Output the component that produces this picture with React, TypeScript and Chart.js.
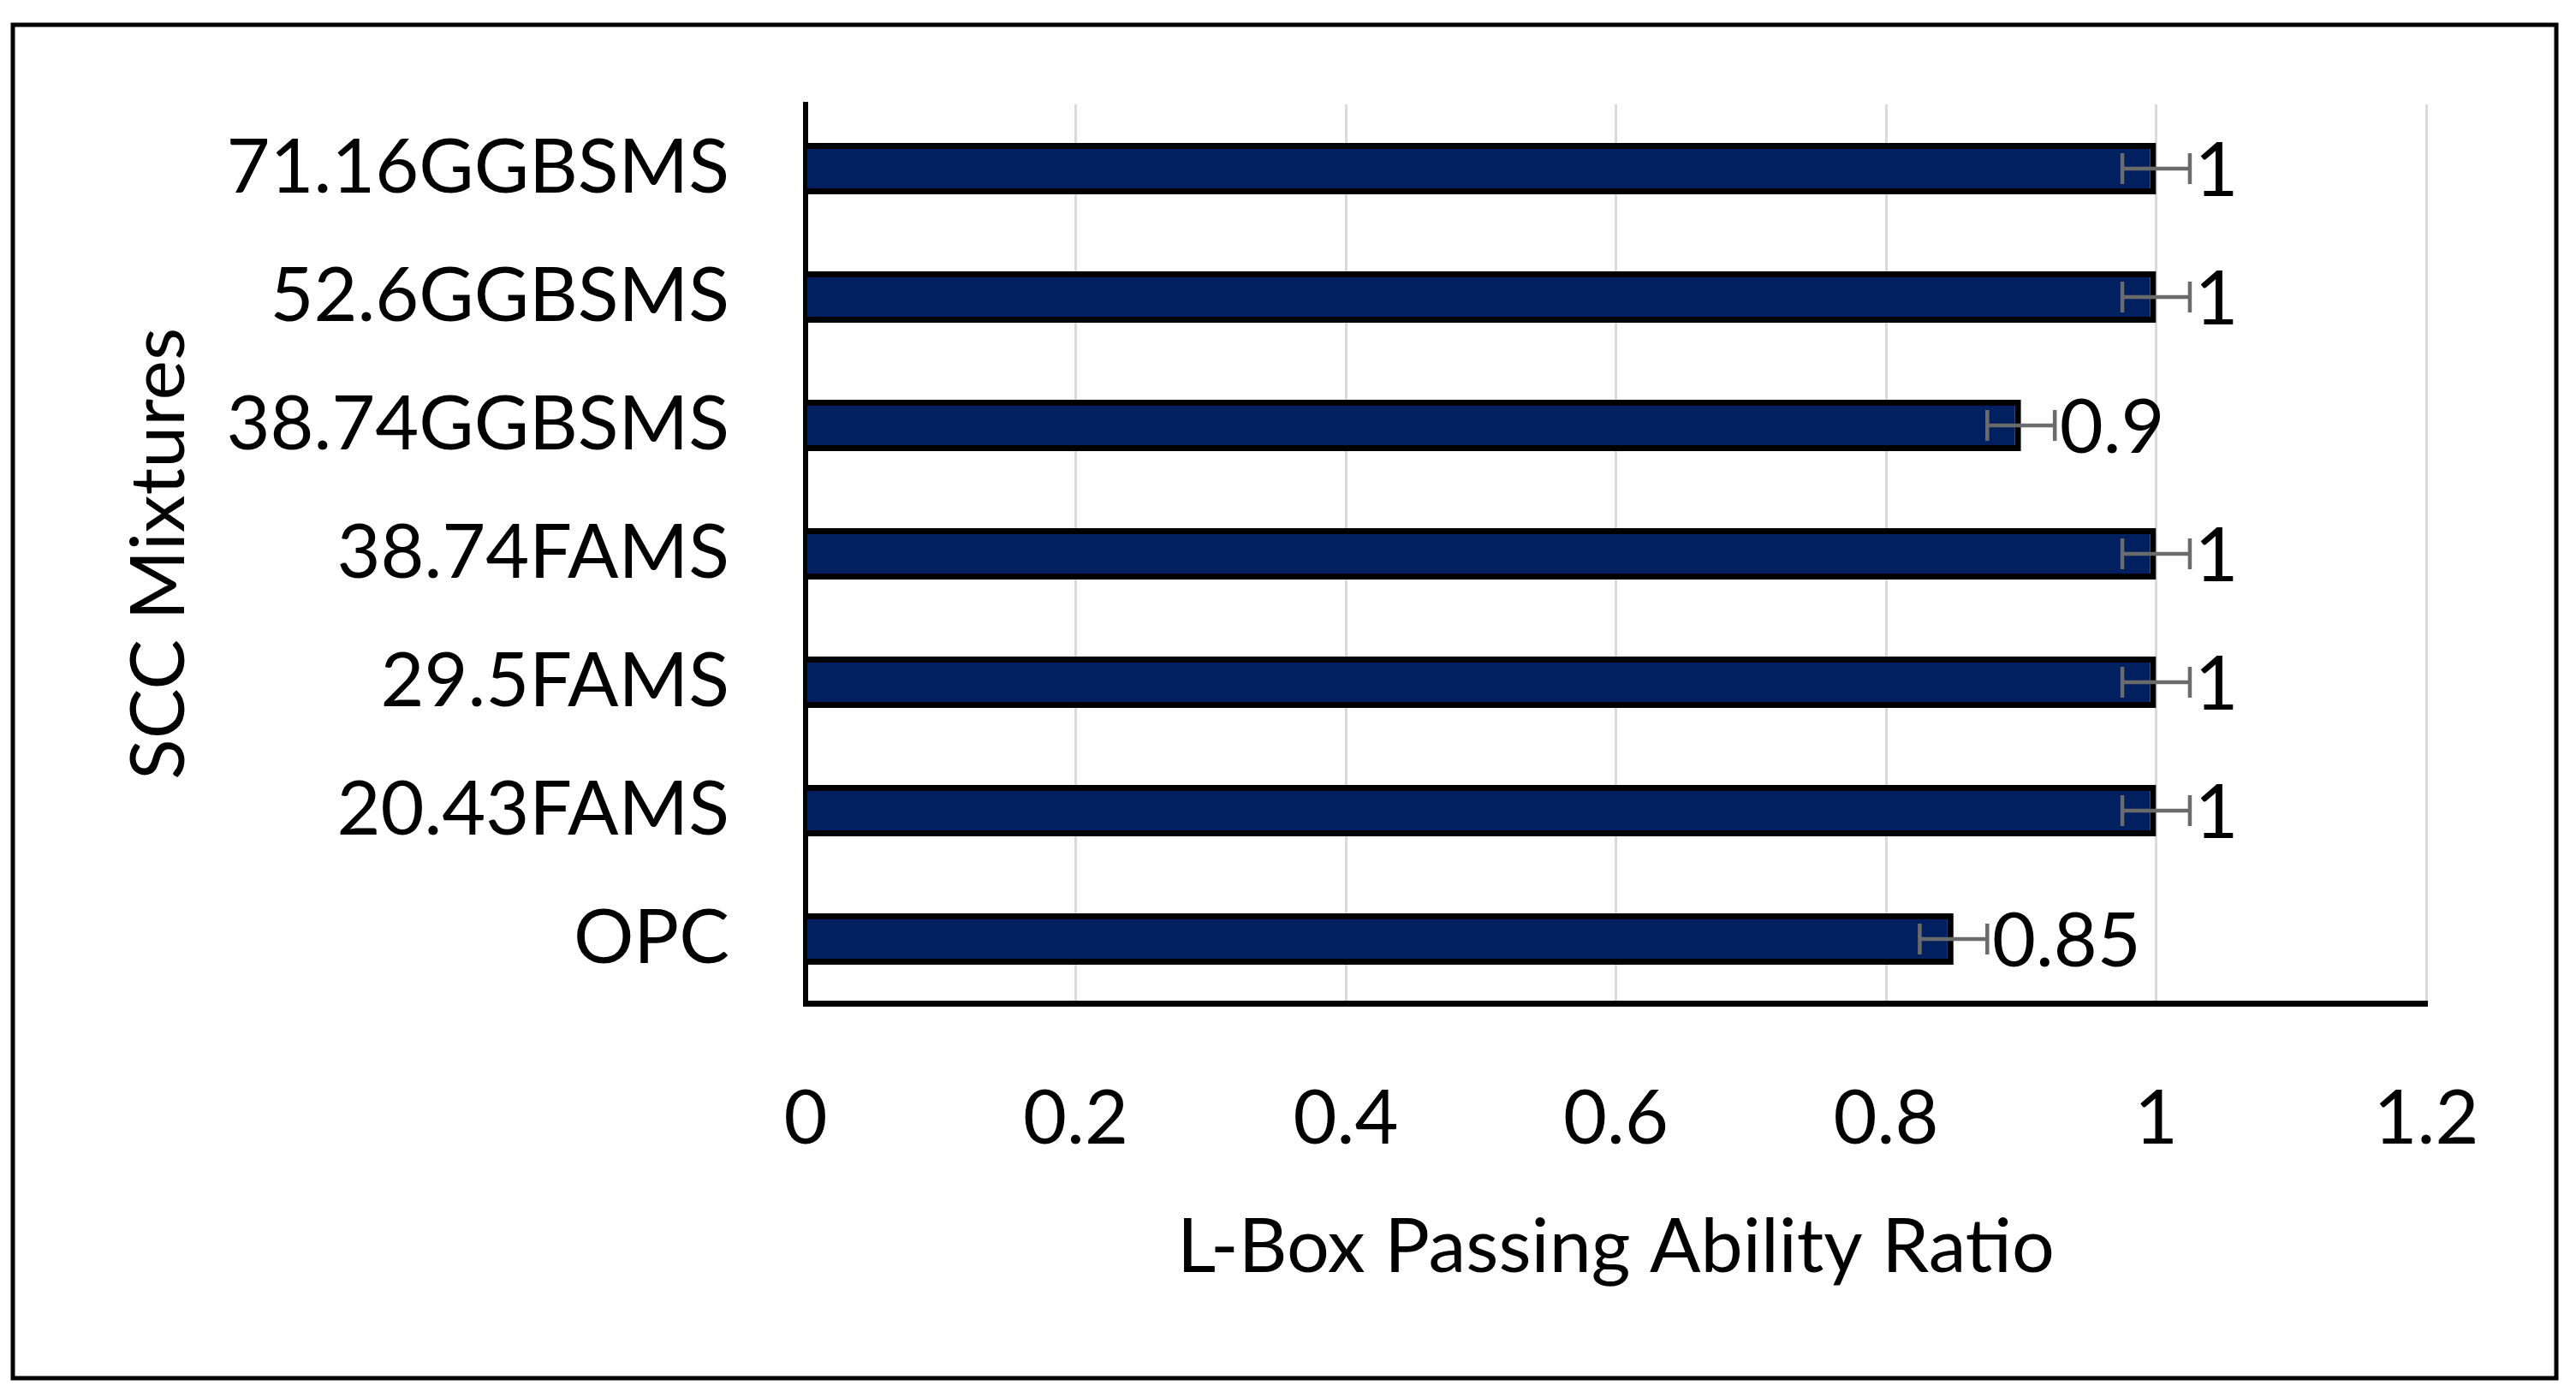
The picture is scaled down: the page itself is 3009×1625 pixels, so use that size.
import React, { useEffect, useRef } from 'react';
import { Chart, registerables } from 'chart.js';

Chart.register(...registerables);

// ---- data ----
const categories = ['OPC', '20.43FAMS', '29.5FAMS', '38.74FAMS', '38.74GGBSMS', '52.6GGBSMS', '71.16GGBSMS'];
const ratioValues = [0.85, 1, 1, 1, 0.9, 1, 1];
const errorValues = [0.025, 0.025, 0.025, 0.025, 0.025, 0.025, 0.025];
const dataLabels = ['0.85', '1', '1', '1', '0.9', '1', '1'];
const xTickLabels = ['0', '0.2', '0.4', '0.6', '0.8', '1', '1.2'];
const xTitle = 'L-Box Passing Ability Ratio';
const yTitle = 'SCC Mixtures';

const FONT = 'Lato, "Open Sans", sans-serif';
const FONT_SIZE = 88;

const framePlugin = {
  id: 'frame',
  beforeDraw(chart: any) {
    const ctx = chart.ctx;
    ctx.save();
    ctx.fillStyle = '#ffffff';
    ctx.fillRect(0, 0, chart.width, chart.height);
    ctx.strokeStyle = '#000000';
    ctx.lineWidth = 5;
    ctx.strokeRect(15, 29, 2986 - 15, 1610 - 29);
    ctx.restore();
  },
};

const errorLabelPlugin = {
  id: 'errorLabels',
  afterDatasetsDraw(chart: any) {
    const ctx = chart.ctx;
    const meta = chart.getDatasetMeta(0);
    const xs = chart.scales.x;
    ctx.save();
    meta.data.forEach((bar: any, i: number) => {
      const v = ratioValues[i];
      const e = errorValues[i];
      const y = bar.y;
      const x1 = xs.getPixelForValue(v - e);
      const x2 = xs.getPixelForValue(v + e);
      ctx.strokeStyle = '#6B6B6B';
      ctx.lineWidth = 4.5;
      ctx.beginPath();
      ctx.moveTo(x1, y);
      ctx.lineTo(x2, y);
      ctx.moveTo(x1, y - 18);
      ctx.lineTo(x1, y + 18);
      ctx.moveTo(x2, y - 18);
      ctx.lineTo(x2, y + 18);
      ctx.stroke();
    });
    ctx.fillStyle = '#000000';
    ctx.font = `${FONT_SIZE}px ${FONT}`;
    ctx.textAlign = 'left';
    ctx.textBaseline = 'middle';
    meta.data.forEach((bar: any, i: number) => {
      ctx.fillText(dataLabels[i], bar.x + 45, bar.y + 4);
    });
    ctx.restore();
  },
};

export default function App() {
  const ref = useRef<HTMLCanvasElement | null>(null);

  useEffect(() => {
    if (!ref.current) return;
    const font = { family: FONT, size: FONT_SIZE };
    const chart = new Chart(ref.current, {
      type: 'bar',
      data: {
        labels: categories,
        datasets: [
          {
            data: ratioValues,
            backgroundColor: '#002060',
            borderColor: '#000000',
            borderWidth: 7,
            borderSkipped: 'start',
            categoryPercentage: 1,
            barPercentage: 0.4,
          },
        ],
      },
      options: {
        indexAxis: 'y',
        responsive: false,
        animation: false,
        devicePixelRatio: 1,
        layout: { padding: { left: 0, top: 122, right: 175, bottom: 0 } },
        plugins: { legend: { display: false }, tooltip: { enabled: false } },
        scales: {
          x: {
            type: 'linear',
            position: 'bottom',
            min: 0,
            max: 1.2,
            ticks: {
              stepSize: 0.2,
              padding: 83,
              color: '#000000',
              font,
              maxRotation: 0,
              autoSkip: false,
              callback: (value: any, index: number) => xTickLabels[index] ?? String(value),
            },
            grid: { color: '#D9D9D9', lineWidth: 3, drawTicks: false },
            border: { display: true, color: '#000000', width: 7 },
            title: {
              display: true,
              text: xTitle,
              color: '#000000',
              font,
              padding: { top: 0, bottom: 115 },
            },
            afterFit: (s: any) => {
              s.height = 453;
              s.paddingLeft = 0;
              s.paddingRight = 0;
            },
          },
          y: {
            type: 'category',
            reverse: true,
            z: 1,
            ticks: { padding: 89, color: '#000000', font, autoSkip: false },
            grid: { display: false, drawTicks: false },
            border: { display: true, color: '#000000', width: 6 },
            title: {
              display: true,
              text: yTitle,
              color: '#000000',
              font,
              padding: { top: 134, bottom: 0 },
            },
            afterFit: (s: any) => {
              s.width = 941;
              s.paddingTop = 0;
              s.paddingBottom = 0;
            },
          },
        },
      } as any,
      plugins: [framePlugin, errorLabelPlugin],
    });
    return () => chart.destroy();
  }, []);

  return (
    <div style={{ position: 'fixed', left: 0, top: 0, width: 3009, height: 1625, background: '#fff' }}>
      <canvas ref={ref} width={3009} height={1625} style={{ display: 'block', width: 3009, height: 1625 }} />
    </div>
  );
}
